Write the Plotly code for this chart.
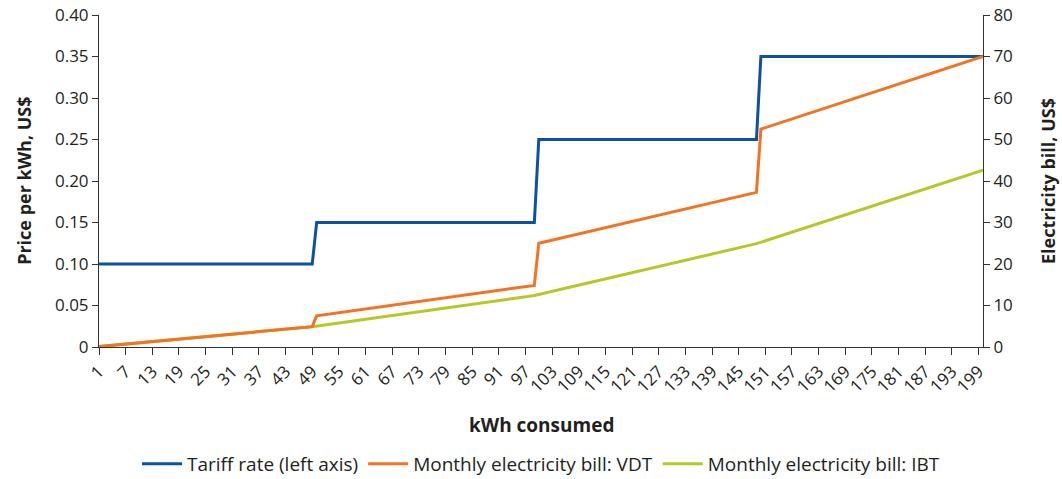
import plotly.graph_objects as go

# Data
kwh_points = [1, 49, 50, 99, 100, 149, 150, 200]
tariff_rate = [0.10, 0.10, 0.15, 0.15, 0.25, 0.25, 0.35, 0.35]
bill_vdt = [0.1, 4.9, 7.5, 14.85, 25.0, 37.25, 52.5, 70.0]
ibt_points = [1, 49, 99, 149, 200]
bill_ibt = [0.1, 4.9, 12.4, 24.9, 42.6]

x_ticks = list(range(1, 200, 6))
left_ticks = [0, 0.05, 0.10, 0.15, 0.20, 0.25, 0.30, 0.35, 0.40]
left_labels = ["0", "0.05", "0.10", "0.15", "0.20", "0.25", "0.30", "0.35", "0.40"]
right_ticks = [0, 10, 20, 30, 40, 50, 60, 70, 80]

BLUE = "#0b52a5"
ORANGE = "#f37321"
GREEN = "#b5c825"
AX = "#333333"
TXT = "#231f20"
FONT = "Open Sans"
FS = 17

# The visible window is 1062x479; the figure is a bit taller so that the
# legend's automatic margin padding fits below the visible area.
VIEW_H = 479
FIG_H = 497
PLOT_B = VIEW_H - 347  # bottom margin within the visible window
PLOT_H = 347 - 15

fig = go.Figure()
fig.add_trace(go.Scatter(x=ibt_points, y=bill_ibt, mode="lines",
                         name="Monthly electricity bill: IBT", legendrank=3,
                         line=dict(color=GREEN, width=3), yaxis="y2"))
fig.add_trace(go.Scatter(x=kwh_points, y=bill_vdt, mode="lines",
                         name="Monthly electricity bill: VDT", legendrank=2,
                         line=dict(color=ORANGE, width=3), yaxis="y2"))
fig.add_trace(go.Scatter(x=kwh_points, y=tariff_rate, mode="lines",
                         name="Tariff rate (left axis)", legendrank=1,
                         line=dict(color=BLUE, width=3), yaxis="y"))

axis_common = dict(showgrid=False, zeroline=False, showline=True, linecolor=AX, linewidth=1,
                   ticks="outside", tickcolor=AX, automargin=False,
                   tickfont=dict(size=FS, color=TXT))

fig.update_layout(
    width=1062, height=FIG_H,
    margin=dict(l=99, r=79, t=15, b=PLOT_B + (FIG_H - VIEW_H)),
    paper_bgcolor="white", plot_bgcolor="white",
    font=dict(family=FONT, size=FS, color=TXT),
    showlegend=True,
    legend=dict(orientation="h", x=0.5, xanchor="center", y=-(464 - 347) / PLOT_H,
                yanchor="middle", font=dict(size=19), itemwidth=40),
    xaxis=dict(range=[1, 200], tickmode="array", tickvals=x_ticks,
               ticktext=[str(v) for v in x_ticks], tickangle=-45, ticklen=7,
               **axis_common),
    yaxis=dict(range=[0, 0.40], tickmode="array", tickvals=left_ticks, ticktext=left_labels,
               ticklen=6, **axis_common),
    yaxis2=dict(range=[0, 80], tickmode="array", tickvals=right_ticks,
                overlaying="y", side="right", ticklen=6, **axis_common),
    annotations=[
        dict(text="<b>kWh consumed</b>", xref="paper", yref="paper", x=0.5, y=-0.235,
             xanchor="center", yanchor="middle", showarrow=False, font=dict(size=19)),
        dict(text="<b>Price per kWh, US$</b>", xref="paper", yref="paper", x=-0.085, y=0.5,
             xanchor="center", yanchor="middle", textangle=-90, showarrow=False, font=dict(size=18)),
        dict(text="<b>Electricity bill, US$</b>", xref="paper", yref="paper", x=1.0735, y=0.5,
             xanchor="center", yanchor="middle", textangle=-90, showarrow=False, font=dict(size=18)),
    ],
)

fig.write_html(
    "out.html",
    config={"displayModeBar": False},
    post_script="document.body.style.margin='0';document.body.style.overflow='hidden';",
)
